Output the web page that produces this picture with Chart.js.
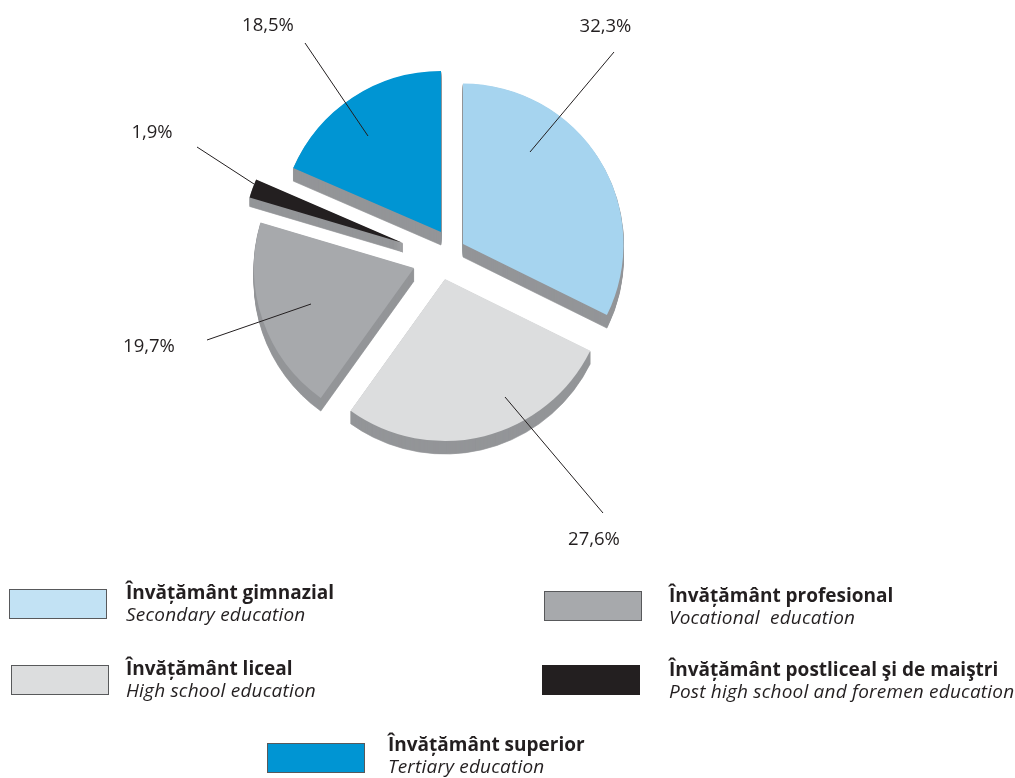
<!DOCTYPE html>
<html><head><meta charset="utf-8">
<style>
html,body{margin:0;padding:0;background:#fff;width:1015px;height:778px;overflow:hidden}
#wrap{position:relative;width:1015px;height:778px}
canvas{position:absolute;left:0;top:0}
.sw{position:absolute;width:96px;height:28px;border:1px solid #58595b}
.tx{position:absolute;white-space:pre;color:#231f20;font-family:"Open Sans","Noto Sans",sans-serif;line-height:22px}
.b{font-weight:700;font-size:19px}
.i{font-style:italic;font-size:19px;letter-spacing:.2px}
</style>
<script src="https://cdn.jsdelivr.net/npm/chart.js@4"></script>
</head><body><div id="wrap"><canvas id="c" width="1015" height="778"></canvas></div>
<script>
const categoriesRo=["Învățământ gimnazial","Învățământ liceal","Învățământ profesional","Învățământ postliceal şi de maiştri","Învățământ superior"];
const categoriesEn=["Secondary education","High school education","Vocational  education","Post high school and foremen education","Tertiary education"];
const values=[32.3,27.6,19.7,1.9,18.5];
const valueLabels=["32,3%","27,6%","19,7%","1,9%","18,5%"];
const sliceColors=["#a6d4ef","#dcddde","#a7a9ac","#231f20","#0095d3"];
const swatchColors=["#c2e2f4","#dcddde","#a7a9ac","#231f20","#0095d3"];
const explodeX=[23,5,-26,-37,1];
const explodeY=[-13,22,11,-14,-25];
const sliceRadius=[160.5,162,160,160,161];
const sliceDepth=[13,13,13,9,13];
const leaderInner=[[67,-92],[60,118],[-103,36],[-149,-59],[-73,-96]];
const leaderOuter=[[151,-192],[158,234],[-207,72],[-206,-96],[-136,-189]];
const labelPos=[[605.5,27],[594,540],[149,347],[152,133],[268,26]];
const swatchPos=[[9,589],[11,665],[544,591],[542,665],[267,743]];
const textPos=[[126,581],[126,657],[669,584],[669,658],[388,733]];
const shadowColor="#939598";

const exploded3D={
  id:"exploded3D",
  afterDatasetsUpdate(chart){
    chart.getDatasetMeta(0).data.forEach((a,i)=>{
      a.x+=explodeX[i];a.y+=explodeY[i];a.outerRadius=sliceRadius[i];
    });
  },
  beforeDatasetsDraw(chart){
    const ctx=chart.ctx;ctx.save();ctx.fillStyle=shadowColor;ctx.strokeStyle=shadowColor;ctx.lineWidth=.7;
    chart.getDatasetMeta(0).data.forEach((a,i)=>{
      for(let d=sliceDepth[i];d>=1;d--){
        ctx.beginPath();ctx.moveTo(a.x,a.y+d);
        ctx.arc(a.x,a.y+d,a.outerRadius,a.startAngle,a.endAngle);
        ctx.closePath();ctx.fill();ctx.stroke();
      }
    });
    ctx.restore();
  },
  afterDatasetsDraw(chart){
    const ctx=chart.ctx;ctx.save();
    ctx.strokeStyle="#231f20";ctx.lineWidth=1;
    ctx.fillStyle="#231f20";ctx.font='18.5px "Open Sans","Noto Sans",sans-serif';
    ctx.textAlign="center";ctx.textBaseline="middle";
    chart.getDatasetMeta(0).data.forEach((a,i)=>{
      ctx.beginPath();
      ctx.moveTo(a.x+leaderInner[i][0],a.y+leaderInner[i][1]);
      ctx.lineTo(a.x+leaderOuter[i][0],a.y+leaderOuter[i][1]);
      ctx.stroke();
      ctx.fillText(valueLabels[i],labelPos[i][0],labelPos[i][1]);
    });
    ctx.restore();
  }
};

new Chart(document.getElementById("c"),{
  type:"pie",
  data:{labels:categoriesRo,datasets:[{data:values,backgroundColor:sliceColors,borderWidth:0}]},
  options:{
    responsive:false,animation:false,events:[],
    layout:{padding:{left:280,right:415,top:97,bottom:361}},
    plugins:{legend:{display:false},tooltip:{enabled:false}}
  },
  plugins:[exploded3D]
});

const wrap=document.getElementById("wrap");
categoriesRo.forEach((c,i)=>{
  const s=document.createElement("div");s.className="sw";
  s.style.left=swatchPos[i][0]+"px";s.style.top=swatchPos[i][1]+"px";s.style.background=swatchColors[i];
  if(i===3)s.style.borderColor=swatchColors[i];
  wrap.appendChild(s);
  const t=document.createElement("div");t.className="tx";
  t.style.left=textPos[i][0]+"px";t.style.top=textPos[i][1]+"px";
  const b=document.createElement("div");b.className="b";b.textContent=c;
  const e=document.createElement("div");e.className="i";e.textContent=categoriesEn[i];
  t.appendChild(b);t.appendChild(e);wrap.appendChild(t);
});
</script></body></html>
